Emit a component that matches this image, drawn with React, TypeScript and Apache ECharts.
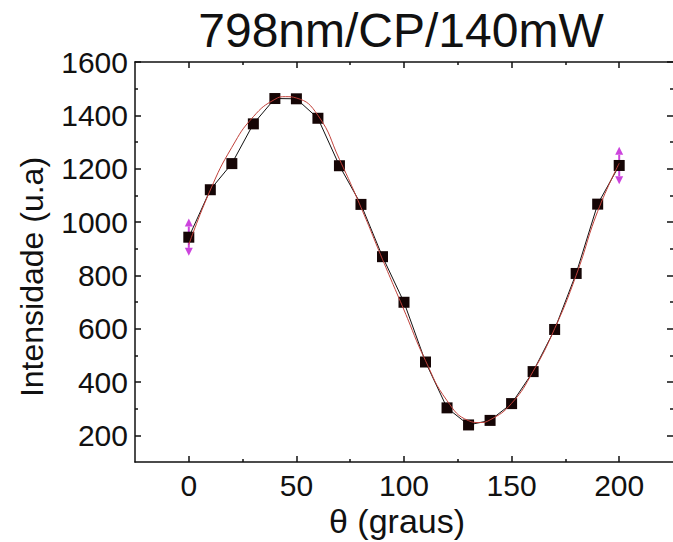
import React, { useEffect, useRef } from "react";
import * as echarts from "echarts";

const titleText = "798nm/CP/140mW";
const xName = "θ (graus)";
const yName = "Intensidade (u.a)";

const thetaX = [0, 10, 20, 30, 40, 50, 60, 70, 80, 90, 100, 110, 120, 130, 140, 150, 160, 170, 180, 190, 200];
const intensity = [943, 1121, 1219, 1368, 1463, 1462, 1389, 1211, 1066, 870, 699, 475, 303, 239, 256, 319, 439, 597, 807, 1067, 1212];

const fitX = [0, 10, 20, 30, 40, 45, 50, 60, 70, 80, 90, 100, 110, 120, 130, 135, 140, 150, 160, 170, 180, 190, 200];
const fitY = [915, 1120, 1280, 1395, 1460, 1470, 1465, 1400, 1235, 1055, 860, 670, 480, 330, 255, 248, 258, 320, 440, 600, 800, 1040, 1220];

const errX = [0, 200];
const errY = [943, 1212];
const errV = [70, 70];

const xMajor = [0, 50, 100, 150, 200];
const xMinor = [25, 75, 125, 175];
const yMajor = [200, 400, 600, 800, 1000, 1200, 1400, 1600];
const yMinor = [300, 500, 700, 900, 1100, 1300, 1500];

const X_MIN = -25, X_MAX = 225, Y_MIN = 100, Y_MAX = 1600;
const FONT = "Liberation Sans, Arial, sans-serif";
const INK = "#111111";

export default function App() {
  const ref = useRef<HTMLDivElement>(null);
  useEffect(() => {
    if (!ref.current) return;
    const chart = echarts.init(ref.current, undefined, { renderer: "svg" });
    const lineStyle = { color: INK, width: 1.5 };
    const fmt = (v: number) => String(v);
    const mkX = (pos: "top" | "bottom", vals: number[], len: number, showLine: boolean, labels: boolean) => ({
      type: "value", position: pos, min: X_MIN, max: X_MAX,
      axisLine: { show: showLine, onZero: false, lineStyle },
      axisTick: { show: true, inside: true, length: len, customValues: vals, lineStyle },
      axisLabel: labels ? { show: true, customValues: xMajor, formatter: fmt, color: INK, fontFamily: FONT, fontSize: 30, margin: 8 } : { show: false },
      splitLine: { show: false },
    });
    const mkY = (pos: "left" | "right", vals: number[], len: number, showLine: boolean, labels: boolean) => ({
      type: "value", position: pos, min: Y_MIN, max: Y_MAX,
      axisLine: { show: showLine, onZero: false, lineStyle },
      axisTick: { show: true, inside: true, length: len, customValues: vals, lineStyle },
      axisLabel: labels ? { show: true, customValues: yMajor, formatter: fmt, color: INK, fontFamily: FONT, fontSize: 30, margin: 7 } : { show: false },
      splitLine: { show: false },
    });

    const errColor = "#cc44dd";
    chart.setOption({
      animation: false,
      backgroundColor: "#ffffff",
      grid: { left: 135, top: 62, width: 542, height: 400, containLabel: false },
      xAxis: [
        mkX("bottom", xMajor, 6, true, true),
        mkX("bottom", xMinor, 3, false, false),
        mkX("top", xMajor, 6, true, false),
        mkX("top", xMinor, 3, false, false),
      ],
      yAxis: [
        mkY("left", yMajor, 6, true, true),
        mkY("left", yMinor, 3, false, false),
        mkY("right", yMajor, 6, false, false),
        mkY("right", yMinor, 3, false, false),
      ],
      graphic: [
        {
          type: "text", x: 401, y: 30, z: 10,
          style: {
            text: titleText, font: `48px ${FONT}`, fill: INK,
            align: "center", verticalAlign: "middle",
            textAlign: "center", textVerticalAlign: "middle",
          },
        },
        {
          type: "text", x: 397, y: 521, z: 10,
          style: {
            text: xName, font: `34px ${FONT}`, fill: INK,
            align: "center", verticalAlign: "middle",
            textAlign: "center", textVerticalAlign: "middle",
          },
        },
        {
          type: "text", x: 32, y: 277, z: 10, rotation: Math.PI / 2,
          style: {
            text: yName, font: `32px ${FONT}`, fill: INK,
            align: "center", verticalAlign: "middle",
            textAlign: "center", textVerticalAlign: "middle",
          },
        },
      ],
      series: [
        {
          type: "custom", xAxisIndex: 0, yAxisIndex: 0, z: 1,
          data: errX.map((x, i) => [x, errY[i], errV[i]]),
          renderItem: (params: any, api: any) => {
            const x = api.value(0), y = api.value(1), e = api.value(2);
            const top = api.coord([x, y + e]);
            const bot = api.coord([x, y - e]);
            const hw = 4, ah = 8;
            return {
              type: "group",
              children: [
                { type: "line", shape: { x1: top[0], y1: top[1] + ah, x2: bot[0], y2: bot[1] - ah }, style: { stroke: errColor, lineWidth: 2 } },
                { type: "polygon", shape: { points: [[top[0], top[1]], [top[0] - hw, top[1] + ah], [top[0] + hw, top[1] + ah]] }, style: { fill: errColor } },
                { type: "polygon", shape: { points: [[bot[0], bot[1]], [bot[0] - hw, bot[1] - ah], [bot[0] + hw, bot[1] - ah]] }, style: { fill: errColor } },
              ],
            };
          },
        },
        {
          type: "line", xAxisIndex: 0, yAxisIndex: 0, z: 2,
          data: thetaX.map((x, i) => [x, intensity[i]]),
          symbol: "rect", symbolSize: 11, showSymbol: true,
          itemStyle: { color: "#150505" },
          lineStyle: { color: INK, width: 1 },
        },
        {
          type: "line", xAxisIndex: 0, yAxisIndex: 0, z: 3,
          data: fitX.map((x, i) => [x, fitY[i]]),
          smooth: 0.5, showSymbol: false, symbol: "none",
          lineStyle: { color: "#c0403a", width: 1 },
        },
      ],
    });
    return () => chart.dispose();
  }, []);
  return (
    <div
      ref={ref}
      style={{ position: "fixed", left: 0, top: 0, width: 673, height: 542, background: "#fff" }}
    />
  );
}
